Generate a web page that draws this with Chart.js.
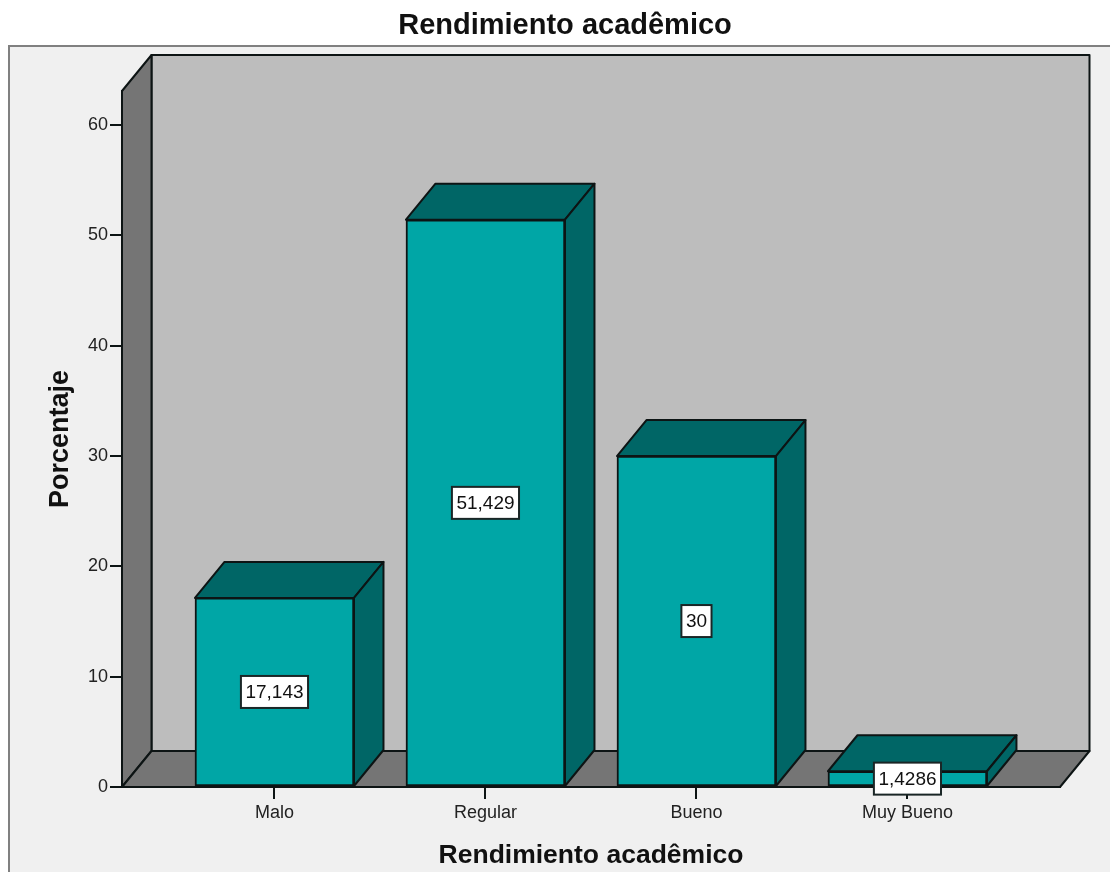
<!DOCTYPE html>
<html lang="es">
<head>
<meta charset="utf-8">
<title>Rendimiento acadêmico</title>
<script src="https://cdn.jsdelivr.net/npm/chart.js@4"></script>
<style>
    html, body { margin: 0; padding: 0; background: #fff; }
    canvas { display: block; }
</style>
</head>
<body>
<canvas id="rendimientoChart" width="1110" height="872"></canvas>
<script>
const categorias = ['Malo', 'Regular', 'Bueno', 'Muy Bueno'];
const porcentajes = [17.143, 51.429, 30, 1.4286];
const etiquetas = ['17,143', '51,429', '30', '1,4286'];
const ticksY = [0, 10, 20, 30, 40, 50, 60];

const FUENTE = '"Liberation Sans", Arial, sans-serif';
const FONDO_X = 29.5;  // profundidad del efecto 3D
const FONDO_Y = 36;
const NEGRO = '#0d1414';

function poligono(ctx, puntos, relleno, borde) {
    ctx.beginPath();
    puntos.forEach((p, i) => i ? ctx.lineTo(p[0], p[1]) : ctx.moveTo(p[0], p[1]));
    ctx.closePath();
    ctx.fillStyle = relleno;
    ctx.fill();
    ctx.lineWidth = 2;
    ctx.lineJoin = 'round';
    ctx.strokeStyle = borde;
    ctx.stroke();
}

// Marco, paredes y piso, detras de todo
const paredes = {
    id: 'paredes',
    beforeDraw(chart) {
        const { ctx, chartArea: a, width, height } = chart;
        ctx.save();
        ctx.fillStyle = '#f0f0f0';
        ctx.fillRect(9, 46, width - 9, height - 46);
        ctx.strokeStyle = '#808080';
        ctx.lineWidth = 2;
        ctx.beginPath();
        ctx.moveTo(9, height);
        ctx.lineTo(9, 46);
        ctx.lineTo(width, 46);
        ctx.stroke();
        const l = a.left, r = a.right, t = a.top, b = a.bottom;
        poligono(ctx, [[l + FONDO_X, t - FONDO_Y], [r + FONDO_X, t - FONDO_Y], [r + FONDO_X, b - FONDO_Y], [l + FONDO_X, b - FONDO_Y]], '#bdbdbd', NEGRO);
        poligono(ctx, [[l, t], [l + FONDO_X, t - FONDO_Y], [l + FONDO_X, b - FONDO_Y], [l, b]], '#757575', NEGRO);
        poligono(ctx, [[l, b], [l + FONDO_X, b - FONDO_Y], [r + FONDO_X, b - FONDO_Y], [r, b]], '#757575', NEGRO);
        ctx.restore();
    }
};

// Caras superior y lateral de cada barra
const caras3d = {
    id: 'caras3d',
    afterDatasetsDraw(chart) {
        const { ctx } = chart;
        ctx.save();
        chart.getDatasetMeta(0).data.forEach(barra => {
            const izq = barra.x - barra.width / 2;
            const der = barra.x + barra.width / 2;
            poligono(ctx, [[izq, barra.y], [izq + FONDO_X, barra.y - FONDO_Y], [der + FONDO_X, barra.y - FONDO_Y], [der, barra.y]], '#006666', NEGRO);
            poligono(ctx, [[der, barra.y], [der + FONDO_X, barra.y - FONDO_Y], [der + FONDO_X, barra.base - FONDO_Y], [der, barra.base]], '#006666', NEGRO);
        });
        ctx.restore();
    }
};

// Etiquetas blancas en el centro de las barras
const etiquetasBarra = {
    id: 'etiquetasBarra',
    afterDraw(chart) {
        const { ctx } = chart;
        ctx.save();
        ctx.font = '19px ' + FUENTE;
        ctx.textAlign = 'center';
        ctx.textBaseline = 'middle';
        chart.getDatasetMeta(0).data.forEach((barra, i) => {
            const ancho = ctx.measureText(etiquetas[i]).width + 9;
            const cy = (barra.y + barra.base) / 2;
            ctx.fillStyle = '#fff';
            ctx.fillRect(barra.x - ancho / 2, cy - 16, ancho, 32);
            ctx.strokeStyle = '#1a2626';
            ctx.lineWidth = 2;
            ctx.strokeRect(barra.x - ancho / 2, cy - 16, ancho, 32);
            ctx.fillStyle = '#111';
            ctx.fillText(etiquetas[i], barra.x, cy + 1);
        });
        ctx.restore();
    }
};

new Chart(document.getElementById('rendimientoChart').getContext('2d'), {
    type: 'bar',
    data: {
        datasets: [{
            label: 'Porcentaje',
            data: porcentajes.map((v, i) => ({ x: i, y: v })),
            backgroundColor: '#00a6a6',
            borderColor: NEGRO,
            borderWidth: 2,
            borderSkipped: false,
            barThickness: 159
        }]
    },
    plugins: [paredes, caras3d, etiquetasBarra],
    options: {
        responsive: false,
        animation: false,
        layout: { padding: { left: 20, right: 0, top: 0, bottom: 0 } },
        plugins: {
            legend: { display: false },
            tooltip: { enabled: false },
            title: {
                display: true,
                text: 'Rendimiento acadêmico',
                color: '#111',
                font: { family: FUENTE, size: 29, weight: 'bold' },
                padding: { top: 9, bottom: 47.2 }
            }
        },
        scales: {
            x: {
                type: 'linear',
                offset: false,
                min: -0.7227,
                max: 3.723,
                afterFit(scale) { scale.height = 85; },
                afterBuildTicks(scale) { scale.ticks = categorias.map((c, i) => ({ value: i })); },
                border: { color: NEGRO, width: 2 },
                grid: { offset: false, drawOnChartArea: false, color: NEGRO, lineWidth: 2, tickLength: 12 },
                ticks: {
                    callback: v => categorias[v],
                    color: '#222',
                    padding: 3,
                    maxRotation: 0,
                    font: { family: FUENTE, size: 18 }
                },
                title: {
                    display: true,
                    text: 'Rendimiento acadêmico',
                    color: '#111',
                    font: { family: FUENTE, size: 26.5, weight: 'bold' },
                    padding: { top: 0, bottom: 0 }
                }
            },
            y: {
                min: 0,
                max: 63.1,
                afterFit(scale) { scale.width = 102; },
                afterBuildTicks(scale) { scale.ticks = ticksY.map(v => ({ value: v })); },
                border: { color: NEGRO, width: 2 },
                grid: { drawOnChartArea: false, color: NEGRO, lineWidth: 2, tickLength: 12 },
                ticks: {
                    color: '#222',
                    padding: 2,
                    font: { family: FUENTE, size: 18 }
                },
                title: {
                    display: true,
                    text: 'Porcentaje',
                    color: '#111',
                    font: { family: FUENTE, size: 27, weight: 'bold' },
                    padding: { top: 24, bottom: 0 }
                }
            },
            // eje vacio: solo reserva el margen derecho
            margen: {
                position: 'right',
                display: true,
                afterFit(scale) { scale.width = 50; },
                border: { display: false },
                grid: { display: false },
                ticks: { display: false }
            }
        }
    }
});
</script>
</body>
</html>
